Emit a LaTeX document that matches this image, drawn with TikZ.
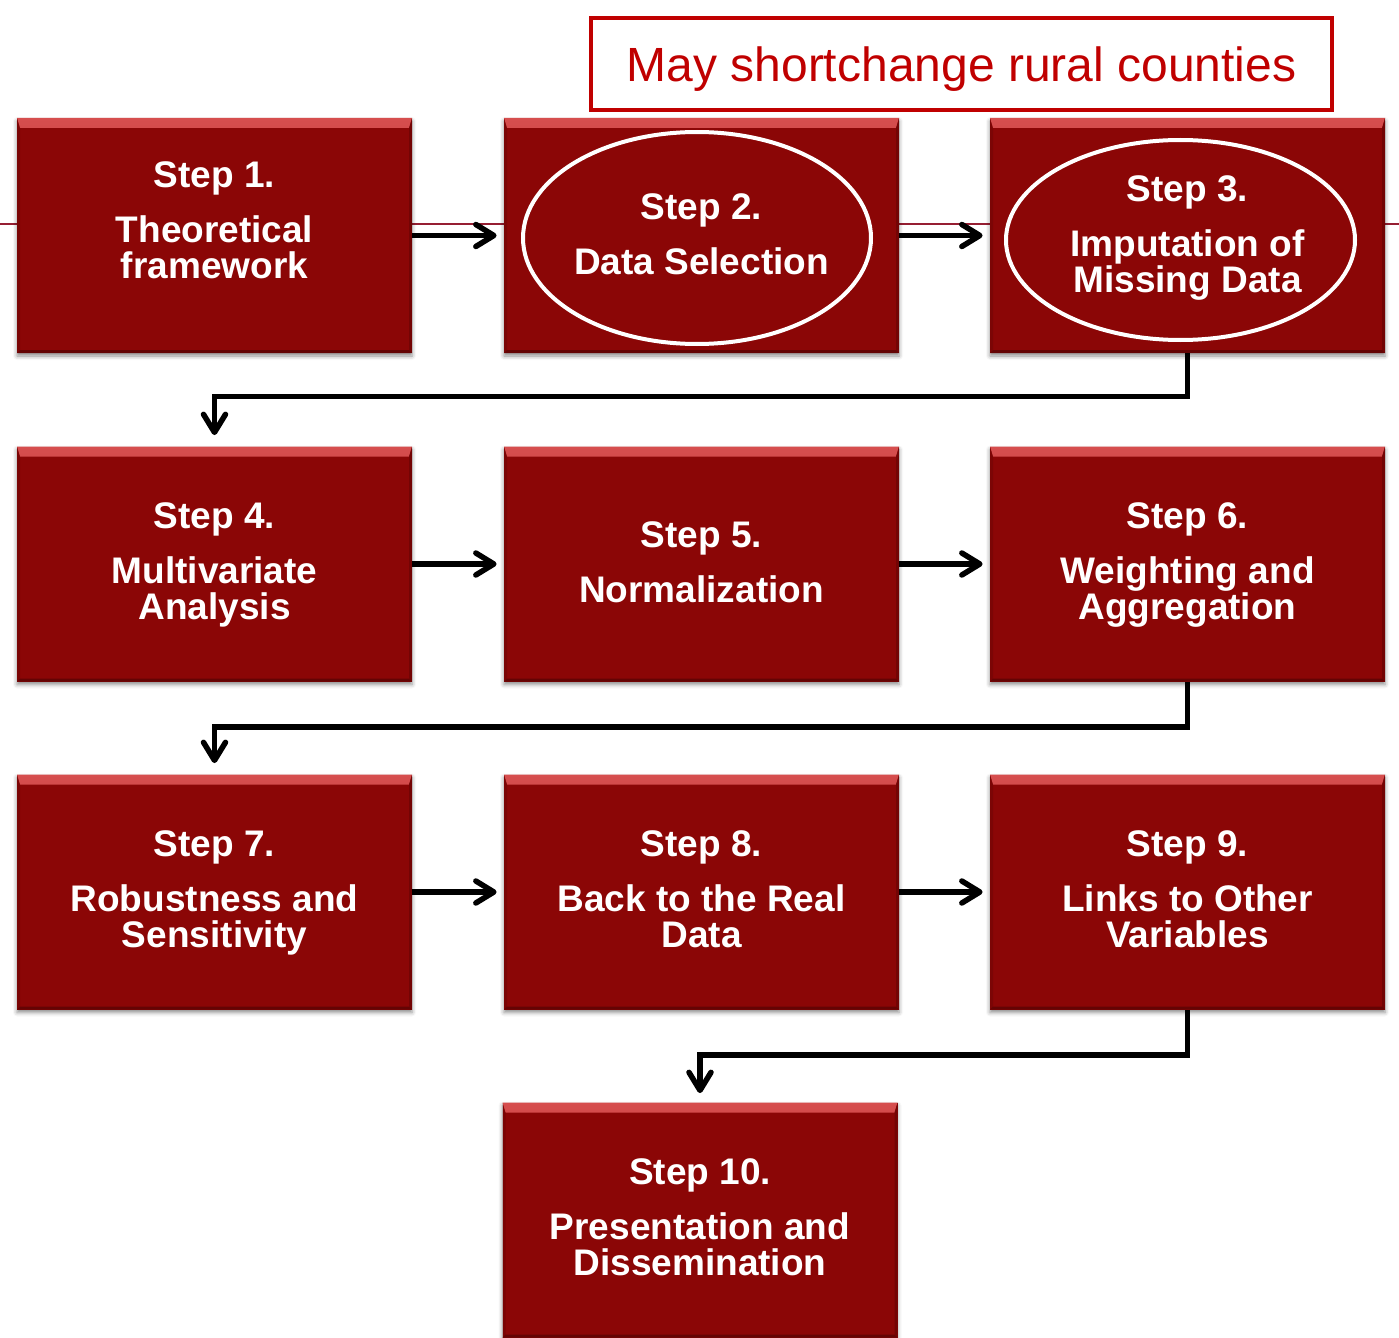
\documentclass[tikz,border=0pt]{standalone}
\usepackage{fontspec}
\setmainfont{Liberation Sans}
\usetikzlibrary{arrows.meta,shapes.geometric,shadows.blur}

\definecolor{stepred}{RGB}{139,6,6}
\definecolor{bevtop}{RGB}{214,78,78}
\definecolor{bevbot}{RGB}{160,22,22}
\definecolor{bevdark}{RGB}{100,4,4}
\definecolor{notered}{RGB}{192,0,0}
\definecolor{rulered}{RGB}{150,30,50}

\tikzset{
	stepbox/.style = {rectangle, fill=stepred, inner sep=0pt, minimum width=197.5pt, minimum height=117.5pt,
		blur shadow={shadow xshift=0pt, shadow yshift=-1.5pt, shadow blur radius=2pt, shadow opacity=45},
		path picture={
			\shade[top color=bevtop, bottom color=bevbot] (path picture bounding box.north west) -- (path picture bounding box.north east) -- ([shift={(-1.5pt,-5pt)}]path picture bounding box.north east) -- ([shift={(1.5pt,-5pt)}]path picture bounding box.north west) -- cycle;
			\fill[bevdark] (path picture bounding box.south west) -- (path picture bounding box.south east) -- ([shift={(-1.5pt,1.5pt)}]path picture bounding box.south east) -- ([shift={(1.5pt,1.5pt)}]path picture bounding box.south west) -- cycle;
			\fill[bevdark, opacity=0.6] (path picture bounding box.north east) -- (path picture bounding box.south east) -- ([shift={(-1.5pt,1.5pt)}]path picture bounding box.south east) -- ([shift={(-1.5pt,-5pt)}]path picture bounding box.north east) -- cycle;
			\fill[bevdark, opacity=0.4] (path picture bounding box.north west) -- (path picture bounding box.south west) -- ([shift={(1.5pt,1.5pt)}]path picture bounding box.south west) -- ([shift={(1.5pt,-5pt)}]path picture bounding box.north west) -- cycle;
		}
	},
	steptext/.style = {anchor=north, inner sep=0pt, align=center, text=white, font=\fontsize{18.5}{18}\selectfont\bfseries},
	ring/.style = {ellipse, draw=white, line width=2pt, inner sep=0pt},
	flow/.style = {line width=2.75pt, -{Straight Barb[length=9pt,width=11pt,round]}, shorten >=3.5pt}
}

\begin{document}
\begin{tikzpicture}[x=0.5pt, y=-0.5pt]
	\useasboundingbox (0,0) rectangle (1399,1338);
	\draw[rulered, line width=0.75pt] (0,224) -- (1399,224);
	\foreach \n/\x/\y in {1/214.5/235.5, 2/701.5/235.5, 3/1187.5/235.5, 4/214.5/564, 5/701.5/564, 6/1187.5/564, 7/214.5/892, 8/701.5/892, 9/1187.5/892, 10/700/1220}
		{\node[stepbox] (s\n) at (\x,\y) {};}
	\node[ring, minimum width=174pt, minimum height=106pt] (e2) at (697,238) {};
	\node[ring, minimum width=174.5pt, minimum height=100pt] (e3) at (1180.5,240) {};
	
	\node[steptext] (t1) at (214.5,161) {Step 1.\\[9.5pt]Theoretical\\framework};
	\node[steptext] (t2) at (701.5,193.5) {Step 2.\\[9.5pt]Data Selection};
	\node[steptext] (t3) at (1187.5,175) {Step 3.\\[9.5pt]Imputation of\\Missing Data};
	\node[steptext] (t4) at (214.5,502.5) {Step 4.\\[9.5pt]Multivariate\\Analysis};
	\node[steptext] (t5) at (701.5,521.5) {Step 5.\\[9.5pt]Normalization};
	\node[steptext] (t6) at (1187.5,502.5) {Step 6.\\[9.5pt]Weighting and\\Aggregation};
	\node[steptext] (t7) at (214.5,830.5) {Step 7.\\[9.5pt]Robustness and\\Sensitivity};
	\node[steptext] (t8) at (701.5,830.5) {Step 8.\\[9.5pt]Back to the Real\\Data};
	\node[steptext] (t9) at (1187.5,830.5) {Step 9.\\[9.5pt]Links to Other\\Variables};
	\node[steptext] (t10) at (700,1158) {Step 10.\\[9.5pt]Presentation and\\Dissemination};
	
	\foreach \a/\b in {1/2, 2/3, 4/5, 5/6, 7/8, 8/9}
		{\draw[flow] (s\a) -- (s\b);}
	\draw[flow, shorten >=5.5pt] (s3.south) -- ++(0,43) -| (s4.north);
	\draw[flow, shorten >=5.5pt] (s6.south) -- ++(0,45) -| (s7.north);
	\draw[flow, shorten >=4.5pt] (s9.south) -- ++(0,45) -| (s10.north);
	
	\node[draw=notered, line width=2pt, minimum width=370.5pt, minimum height=46pt, text depth=0pt, text=notered, font=\fontsize{24}{28}\selectfont] (note) at (961.5,64) {May shortchange rural counties};
\end{tikzpicture}
\end{document}
